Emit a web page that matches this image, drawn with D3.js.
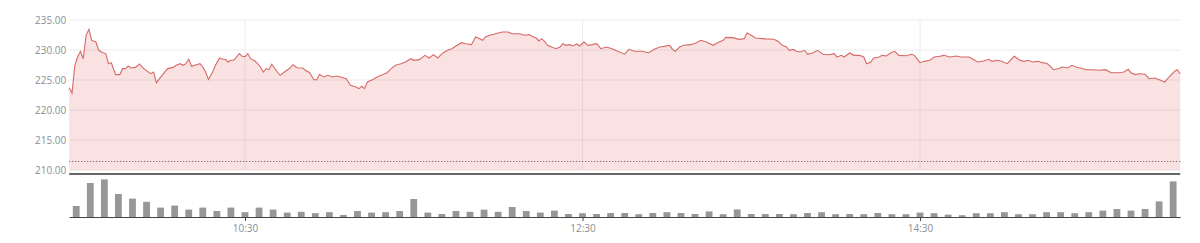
<!DOCTYPE html>
<html>
<head>
<meta charset="utf-8">
<script src="https://cdn.jsdelivr.net/npm/d3@7"></script>
<style>
    body { margin: 0; background: #fff; }
    svg text { font-family: "Open Sans", sans-serif; }
</style>
</head>
<body>
<svg id="intraday-chart" width="1200" height="243"></svg>
<script>
// minutes after 09:30 for each price point
const priceMinutes = [
    -2.5, -1.5, -0.5, 0.5, 1.5, 2.5, 3.5, 4.5, 5.5, 7, 8, 9.5, 10.5, 11.5, 12.5, 13, 14, 15.5, 16.5, 17.5,
    18.5, 19.5, 21, 22.5, 24, 26.5, 27.5, 28.5, 30.5, 32.5, 34.5, 35.5, 37, 38, 39, 40, 41, 44, 45, 46,
    47, 48.5, 49.5, 51, 52, 53, 54, 55, 56, 58, 59, 60, 61, 62, 63.5, 64.5, 65.5, 66.5, 67.5, 68.5,
    69.5, 70.5, 71.5, 72.5, 74, 76, 77, 78.5, 80.5, 81.5, 83, 84.5, 85.5, 86.5, 88, 89.5, 91, 92.5, 94, 96,
    97.5, 99.5, 100.5, 101.5, 102.5, 103.5, 105.5, 107, 109, 110.5, 112, 113.5, 115.5, 117, 119, 120,
    122, 124, 125.5, 127, 128.5, 130.5, 132, 133.5, 135, 137, 138.5, 140.5, 142, 143.5, 144.5, 145.5,
    147, 148.5, 150, 151.5, 153.5, 155, 157.5, 159.5, 161, 162.5, 163.5, 164.5, 165.5, 166.5, 167.5, 169,
    170.5, 172, 173, 174, 175.5, 176.5, 178, 179, 180.5, 182, 183.5, 185, 186.5, 188.5, 190.5, 192.5,
    195, 196.5, 198.5, 201, 203.5, 205.5, 207.5, 209, 211, 212, 213, 214.5, 216, 218.5, 220.5, 222,
    224, 226.5, 228, 230, 231, 233.5, 235.5, 237.5, 238.5, 240, 241.5, 244, 245,
    248, 249.5, 251, 252.5, 253.5, 255, 256, 257.5, 259, 260, 262, 263.5, 265.5, 267.5, 269.5, 270.5,
    272, 273, 275, 276.5, 278.5, 280, 281, 282.5, 283.5, 285.5, 286.5, 288, 289.5, 291, 292.5, 295,
    297, 298, 300, 301.5, 303.5, 305, 307, 308.5, 310.5, 313, 314.5, 317.5, 318.5, 320.5, 322.5, 324.5,
    325.5, 327.5, 329, 331, 333.5, 335.5, 337, 338.5, 340, 342, 343.5, 345,
    346, 347.5, 349.5, 350.5, 352.5, 354, 355.5, 357, 359, 361.5, 363.5, 366, 368, 370.5, 372.5, 374,
    375, 376.5, 378, 380, 381.5, 383.5, 385.5, 387, 388.5, 390.5, 391.5, 392.5
];

const priceValues = [
    223.72, 222.83, 227.45, 228.83, 229.78, 228.55, 232.45, 233.45, 231.60, 231.33, 229.95, 229.55, 229.40, 227.72, 227.90, 227.17, 225.90, 225.90, 226.90, 226.90,
    227.33, 227.00, 227.10, 227.67, 226.90, 226.05, 226.33, 224.55, 225.78, 226.90, 227.10, 227.45, 227.72, 227.45, 227.72, 228.45, 227.28, 227.72, 227.17, 226.33,
    225.10, 226.33, 227.45, 228.67, 228.45, 228.45, 228.00, 228.28, 228.28, 229.40, 228.95, 228.89, 229.40, 228.55, 228.17, 227.72, 227.17, 226.33, 226.90, 226.72,
    227.62, 227.00, 226.33, 225.78, 226.33, 227.00, 227.55, 227.05, 227.00, 226.62, 226.22, 225.05, 225.05, 225.95, 225.50, 225.78, 225.50, 225.67, 225.50, 225.22,
    224.12, 223.83, 223.55, 223.95, 223.55, 224.67, 225.10, 225.50, 225.90, 226.22, 226.90, 227.45, 227.72, 228.00, 228.55, 228.28,
    228.39, 229.11, 228.67, 229.22, 228.67, 229.55, 229.95, 230.22, 230.67, 231.22, 231.05, 230.89, 232.17, 231.89, 231.61, 232.17,
    232.45, 232.61, 232.83, 233.00, 233.00, 232.72, 232.72, 232.45, 232.56, 232.17, 232.00, 231.50, 231.89, 231.45, 230.78, 230.50,
    230.22, 230.50, 231.05, 230.78, 230.89, 230.67, 231.00, 230.67, 231.33, 230.78, 230.89, 231.05, 230.22, 230.50, 230.22, 229.78,
    229.30, 230.11, 229.78, 229.78, 229.55, 230.11, 230.50, 230.61, 230.78, 230.11, 229.78, 230.50, 230.78, 230.89, 231.22, 231.61,
    231.33, 230.78, 231.22, 231.61, 232.11, 232.06, 231.78, 231.89, 232.83, 232.45, 232.00, 231.89, 231.85,
    231.78, 231.45, 230.78, 230.50, 229.95, 230.11, 229.78, 229.67, 229.95, 229.28, 229.55, 229.95, 229.28, 229.22, 229.40, 228.83,
    229.11, 228.83, 229.50, 229.11, 229.11, 228.83, 227.72, 228.00, 228.67, 228.83, 229.11, 229.00, 229.50, 229.78, 229.11, 229.05,
    229.28, 229.11, 227.89, 228.11, 228.28, 228.83, 228.95, 229.11, 228.83, 229.00, 228.83, 228.83, 228.55, 228.00, 228.17, 228.45,
    228.11, 228.28, 228.11, 227.72, 228.95, 228.28, 228.11, 228.28, 228.00, 228.11, 227.89, 227.80,
    227.45, 226.72, 226.90, 227.17, 227.00, 227.45, 227.17, 227.00, 226.72, 226.72, 226.62, 226.72, 226.22, 226.22, 226.33, 226.78,
    226.22, 225.90, 226.05, 225.95, 225.22, 225.33, 224.95, 224.67, 225.50, 226.45, 226.70, 226.00
];

// 5-minute volume bars, first bar at 09:30
const volumeStart = "09:30";
const volumeStepMinutes = 5;
const volumeValues = [
    275, 850, 940, 575, 460, 380, 235, 285, 185, 235, 150, 235, 120, 235, 185, 110, 130, 95, 120, 50,
    150, 110, 120, 150, 450, 110, 75, 150, 130, 185, 130, 250, 150, 110, 160, 75, 95, 75, 100, 100,
    70, 100, 120, 100, 75, 140, 70, 190, 75, 75, 75, 70, 100, 120, 70, 75, 70, 100, 70, 70,
    110, 95, 60, 45, 95, 95, 120, 70, 70, 120, 120, 95, 120, 160, 200, 160, 200, 390, 890
];

const previousClose = 211.42;
const priceTicks = [210, 215, 220, 225, 230, 235];
const timeTickLabels = ["10:30", "12:30", "14:30"];
const sessionRange = ["09:27:30", "16:02:30"];

function drawIntradayChart() {
    let chart = d3.select("#intraday-chart");
    let parseTime = d3.timeParse("%H:%M:%S");
    let parseHM = d3.timeParse("%H:%M");

    let openTime = parseHM("09:30");
    let toTime = m => new Date(openTime.getTime() + m * 60000);

    let left = 69.2, right = 1180.2;
    let priceTop = 20, priceBottom = 170;
    let volTop = 177, volBottom = 217;

    let x = d3.scaleTime()
        .domain(sessionRange.map(parseTime))
        .range([left, right]);

    let y = d3.scaleLinear()
        .domain([d3.min(priceTicks), d3.max(priceTicks)])
        .range([priceBottom, priceTop]);

    let yVol = d3.scaleLinear()
        .domain([0, 1000])
        .range([volBottom, volTop]);

    let priceData = priceMinutes.map((m, i) => ({ t: toTime(m), v: priceValues[i] }));
    let volStart = parseHM(volumeStart);
    let volumeData = volumeValues.map((v, i) => ({
        t: new Date(volStart.getTime() + i * volumeStepMinutes * 60000),
        v: v
    }));
    let tickTimes = timeTickLabels.map(parseHM);

    // horizontal grid
    chart.append("g")
        .selectAll("line")
        .data(priceTicks)
        .join("line")
        .attr("x1", left)
        .attr("x2", right)
        .attr("y1", d => y(d))
        .attr("y2", d => y(d))
        .style("stroke", "#ececef")
        .style("stroke-width", 1);

    // vertical grid
    chart.append("g")
        .selectAll("line")
        .data(tickTimes)
        .join("line")
        .attr("x1", d => x(d))
        .attr("x2", d => x(d))
        .attr("y1", priceTop)
        .attr("y2", priceBottom)
        .style("stroke", "#ececef")
        .style("stroke-width", 1);

    let area = d3.area()
        .x(d => x(d.t))
        .y0(priceBottom)
        .y1(d => y(d.v));

    let line = d3.line()
        .x(d => x(d.t))
        .y(d => y(d.v));

    chart.append("path")
        .datum(priceData)
        .attr("d", area)
        .style("fill", "rgba(217, 83, 79, 0.17)");

    chart.append("path")
        .datum(priceData)
        .attr("d", line)
        .style("fill", "none")
        .style("stroke", "#d66a68")
        .style("stroke-width", 1.1);

    // previous close
    chart.append("line")
        .attr("x1", left)
        .attr("x2", right)
        .attr("y1", y(previousClose))
        .attr("y2", y(previousClose))
        .style("stroke", "#555")
        .style("stroke-width", 1)
        .style("stroke-dasharray", "1,2");

    // price axis labels
    let yAxis = d3.axisLeft(y)
        .tickValues(priceTicks)
        .tickFormat(d3.format(".2f"))
        .tickSize(0)
        .tickPadding(3);

    chart.append("g")
        .attr("transform", "translate(" + left + ",0)")
        .call(yAxis)
        .call(g => g.select(".domain").remove())
        .selectAll("text")
        .style("font-size", "10px")
        .style("fill", "#8b8e96");

    // separator between price and volume panels
    chart.append("line")
        .attr("x1", left)
        .attr("x2", right)
        .attr("y1", 174)
        .attr("y2", 174)
        .style("stroke", "#333")
        .style("stroke-width", 1.5);

    // volume bars
    chart.append("g")
        .selectAll("rect")
        .data(volumeData)
        .join("rect")
        .attr("x", d => x(d.t) - 3.4)
        .attr("width", 6.8)
        .attr("y", d => yVol(d.v))
        .attr("height", d => volBottom - yVol(d.v))
        .style("fill", "#979797");

    let xAxis = d3.axisBottom(x)
        .tickValues(tickTimes)
        .tickFormat(d3.timeFormat("%H:%M"))
        .tickSize(4)
        .tickSizeOuter(0)
        .tickPadding(4);

    let xg = chart.append("g")
        .attr("transform", "translate(0," + volBottom + ")")
        .call(xAxis);

    xg.select(".domain")
        .style("stroke", "#444");
    xg.selectAll(".tick line")
        .style("stroke", "#444");
    xg.selectAll("text")
        .style("font-size", "10px")
        .style("fill", "#8b8e96");
}

drawIntradayChart();
</script>
</body>
</html>
